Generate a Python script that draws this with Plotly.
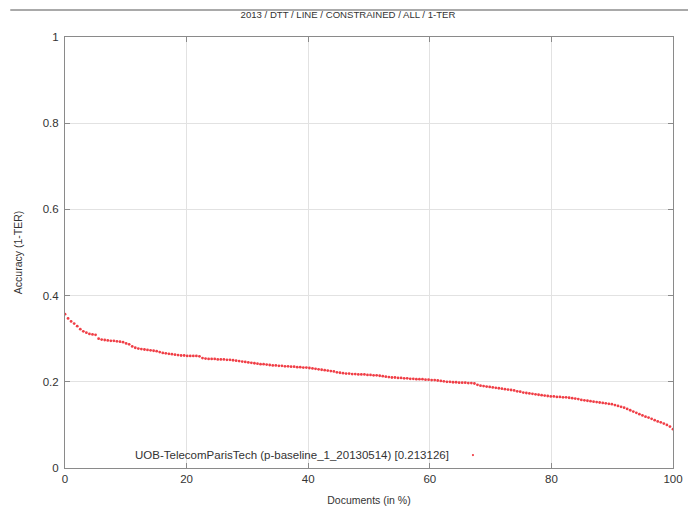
import plotly.graph_objects as go

title_text = "2013 / DTT / LINE / CONSTRAINED / ALL / 1-TER"
x_title = "Documents (in %)"
y_title = "Accuracy (1-TER)"
legend_text = "UOB-TelecomParisTech (p-baseline_1_20130514) [0.213126]"
x_ticks = [0, 20, 40, 60, 80, 100]
y_ticks = [0, 0.2, 0.4, 0.6, 0.8, 1]
y_tick_labels = ["0", "0.2", "0.4", "0.6", "0.8", "1"]

# accuracy per document, sorted descending
accuracy = [
    0.357, 0.347, 0.340, 0.335, 0.329, 0.322, 0.317, 0.314, 0.311, 0.310,
    0.309, 0.300, 0.298, 0.297, 0.296, 0.295, 0.295, 0.294, 0.293, 0.292,
    0.289, 0.287, 0.282, 0.279, 0.277, 0.276, 0.275, 0.274, 0.273, 0.272,
    0.271, 0.269, 0.267, 0.266, 0.265, 0.264, 0.263, 0.262, 0.261, 0.261,
    0.260, 0.260, 0.260, 0.260, 0.259, 0.255, 0.254, 0.253, 0.253, 0.253,
    0.252, 0.252, 0.252, 0.251, 0.251, 0.250, 0.249, 0.248, 0.247, 0.246,
    0.245, 0.244, 0.243, 0.242, 0.241, 0.241, 0.240, 0.239, 0.238, 0.238,
    0.237, 0.237, 0.236, 0.236, 0.235, 0.235, 0.234, 0.234, 0.233, 0.233,
    0.232, 0.231, 0.230, 0.229, 0.228, 0.227, 0.226, 0.225, 0.224, 0.222,
    0.221, 0.220, 0.219, 0.219, 0.218, 0.218, 0.217, 0.217, 0.217, 0.216,
    0.216, 0.215, 0.215, 0.214, 0.213, 0.212, 0.211, 0.210, 0.210, 0.209,
    0.209, 0.208, 0.208, 0.207, 0.207, 0.206, 0.206, 0.206, 0.205, 0.205,
    0.204, 0.204, 0.203, 0.202, 0.201, 0.200, 0.200, 0.199, 0.199, 0.198,
    0.198, 0.198, 0.197, 0.197, 0.196, 0.193, 0.191, 0.190, 0.189, 0.188,
    0.187, 0.186, 0.185, 0.184, 0.183, 0.182, 0.181, 0.180, 0.178, 0.177,
    0.175, 0.174, 0.173, 0.172, 0.171, 0.170, 0.169, 0.168, 0.167, 0.166,
    0.166, 0.165, 0.165, 0.164, 0.164, 0.163, 0.162, 0.161, 0.160, 0.158,
    0.157, 0.156, 0.155, 0.154, 0.153, 0.152, 0.151, 0.150, 0.149, 0.148,
    0.146, 0.144, 0.142, 0.140, 0.137, 0.134, 0.131, 0.128, 0.125, 0.122,
    0.119, 0.117, 0.114, 0.111, 0.108, 0.106, 0.103, 0.100, 0.096, 0.090,
]
n = len(accuracy)
documents_pct = [100.0 * i / (n - 1) for i in range(n)]

red = "rgb(240,62,70)"
family = "Liberation Sans, Arial, sans-serif"
font = dict(family=family, size=11.5, color="#333333")

fig = go.Figure()
fig.add_trace(go.Scatter(
    x=documents_pct, y=accuracy, mode="markers",
    marker=dict(color=red, size=2.8, line=dict(width=0)),
    showlegend=False, hoverinfo="skip",
))

axis_common = dict(
    showgrid=True, gridcolor="#e2e2e2", gridwidth=1,
    showline=True, linecolor="#8a8a8a", linewidth=1, mirror="ticks",
    ticks="inside", ticklen=5, tickcolor="#8a8a8a",
    zeroline=False, tickfont=font, automargin=False,
)

# page body has an 8px margin, so the figure is sized/offset accordingly
fig.update_layout(
    width=688, height=498,
    margin=dict(l=57, r=23, t=29, b=38),
    paper_bgcolor="white", plot_bgcolor="white",
    font=font,
    title=dict(text=title_text, x=340 / 688, xanchor="center", y=1 - 7 / 498,
               yanchor="middle", yref="container",
               font=dict(family=family, size=9.6, color="#333333")),
    xaxis=dict(range=[0, 100], tickvals=x_ticks, **axis_common,
               title=dict(text=x_title, standoff=13,
                          font=dict(family=family, size=10.5, color="#333333"))),
    yaxis=dict(range=[0, 1], tickvals=y_ticks, ticktext=y_tick_labels, **axis_common,
               ticklabelstandoff=3,
               title=dict(text=y_title, standoff=18,
                          font=dict(family=family, size=10.5, color="#333333"))),
    showlegend=False,
)

# top rule line
fig.add_shape(type="line", xref="paper", yref="paper",
              x0=-0.09, x1=1.03, y0=1 + 27 / 431, y1=1 + 27 / 431,
              line=dict(color="#555555", width=1))

# legend-like key
fig.add_annotation(xref="x", yref="y", x=63.5, y=0.03, text=legend_text,
                   showarrow=False, xanchor="right", yanchor="middle",
                   font=dict(family=family, size=11.5, color="#333333"))
fig.add_shape(type="circle", xref="x", yref="y",
              x0=67.1 - 0.18, x1=67.1 + 0.18, y0=0.03 - 0.0025, y1=0.03 + 0.0025,
              fillcolor=red, line=dict(width=0))

fig.write_html("out.html")
